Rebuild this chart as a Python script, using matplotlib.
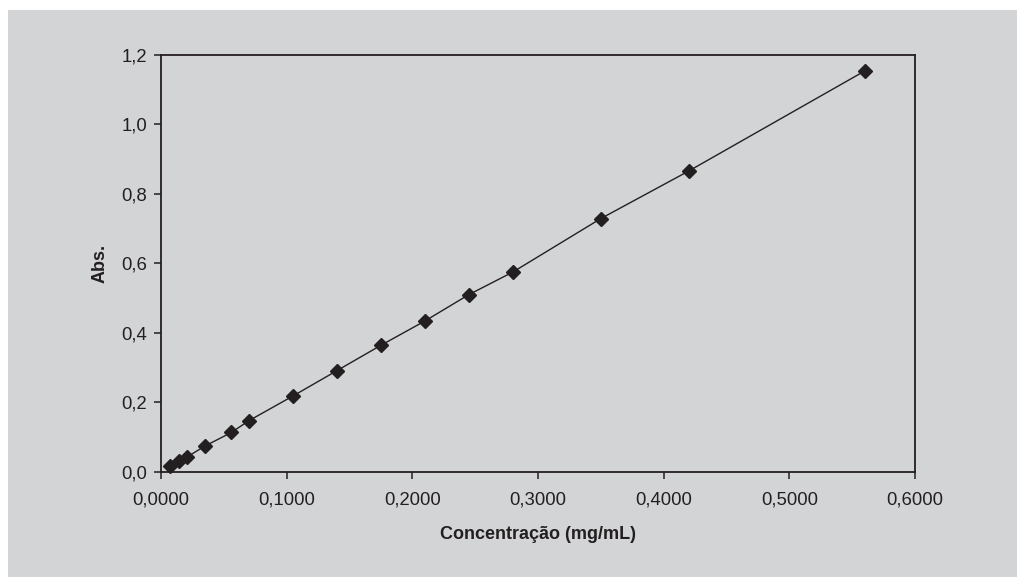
import matplotlib.pyplot as plt
from matplotlib.patches import Rectangle
from matplotlib.ticker import FuncFormatter

plt.rcParams['font.family'] = ['Liberation Sans', 'DejaVu Sans']

# === data ===
conc = [0.007, 0.014, 0.021, 0.035, 0.056, 0.070, 0.105, 0.140,
        0.175, 0.210, 0.245, 0.280, 0.350, 0.420, 0.560]
absorb = [0.016, 0.032, 0.043, 0.074, 0.113, 0.147, 0.218, 0.291,
          0.364, 0.434, 0.510, 0.575, 0.729, 0.866, 1.154]

x_ticks = [0.0, 0.1, 0.2, 0.3, 0.4, 0.5, 0.6]
y_ticks = [0.0, 0.2, 0.4, 0.6, 0.8, 1.0, 1.2]

bg = '#d3d4d6'
txt = '#231f20'

fig = plt.figure(figsize=(10.17, 5.77), dpi=100)
fig.patch.set_facecolor('white')
fig.add_artist(Rectangle((8 / 1017, 0), 1, 1 - 10 / 577, transform=fig.transFigure,
                         facecolor=bg, edgecolor='none', zorder=0))

ax = fig.add_axes([161 / 1017, 1 - 471.7 / 577, (915 - 161) / 1017, (471.7 - 55) / 577])
ax.set_facecolor(bg)

ax.plot(conc, absorb, color=txt, lw=1.0, marker='D', markersize=7,
        markerfacecolor=txt, markeredgecolor=txt, clip_on=False)

ax.set_xlim(0, 0.6)
ax.set_ylim(0, 1.2)
ax.set_xticks(x_ticks)
ax.set_yticks(y_ticks)
ax.xaxis.set_major_formatter(FuncFormatter(lambda v, p: f'{v:.4f}'.replace('.', ',')))
ax.yaxis.set_major_formatter(FuncFormatter(lambda v, p: f'{v:.1f}'.replace('.', ',')))

for s in ax.spines.values():
    s.set_color(txt)
    s.set_linewidth(1.3)

ax.tick_params(direction='out', length=5, width=1.1, color=txt,
               labelsize=13.3, labelcolor=txt)
ax.tick_params(axis='x', pad=9)
ax.tick_params(axis='y', pad=5)

ax.set_xlabel('Concentração (mg/mL)', fontsize=13, fontweight='bold', color=txt, labelpad=13)
ax.set_ylabel('Abs.', fontsize=13, fontweight='bold', color=txt, labelpad=9)

fig.savefig('out.png', dpi=100, facecolor=fig.get_facecolor())
